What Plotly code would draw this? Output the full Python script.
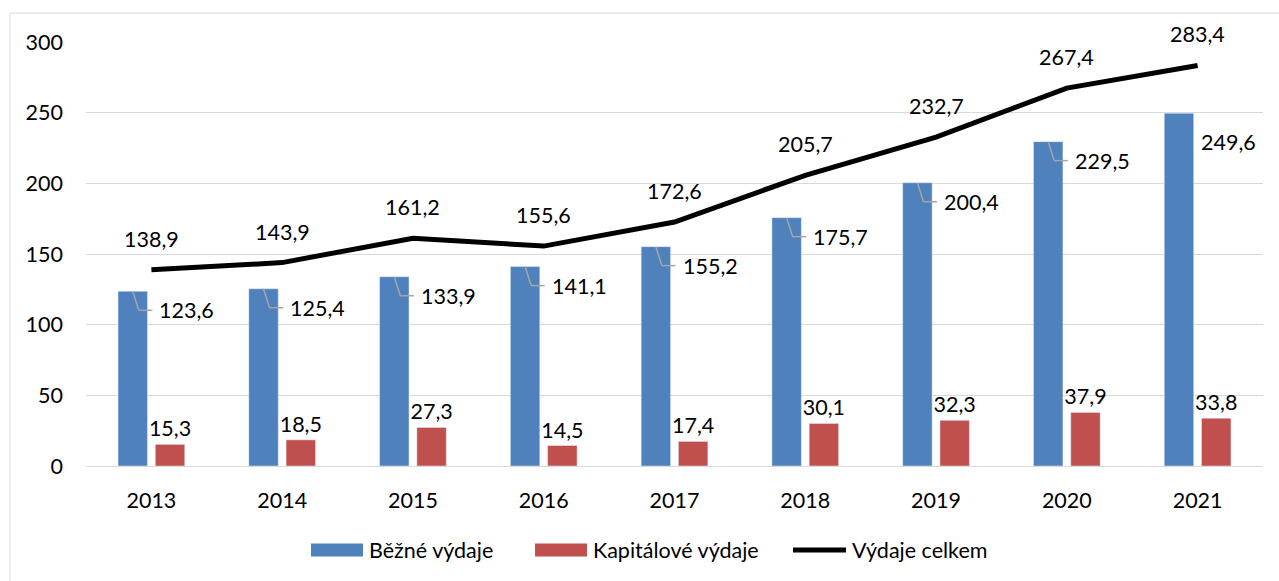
import plotly.graph_objects as go

years = ["2013", "2014", "2015", "2016", "2017", "2018", "2019", "2020", "2021"]
bezne = [123.6, 125.4, 133.9, 141.1, 155.2, 175.7, 200.4, 229.5, 249.6]
kapitalove = [15.3, 18.5, 27.3, 14.5, 17.4, 30.1, 32.3, 37.9, 33.8]
celkem = [138.9, 143.9, 161.2, 155.6, 172.6, 205.7, 232.7, 267.4, 283.4]
y_ticks = [0, 50, 100, 150, 200, 250, 300]

names = ["Běžné výdaje", "Kapitálové výdaje", "Výdaje celkem"]
BLUE = "#4f81bd"
RED = "#c0504d"
GRID = "#d9d9d9"
FONT = "Lato"
FS = 21.5

W, H = 1279, 581
ML, MR, MT, MB = 86, 16, 42, 115
PW = W - ML - MR
PH = H - MT - MB
n = len(years)
idx = list(range(n))
px_x = PW / n          # px per category unit
px_y = PH / 300.0      # px per value unit

def fmt(v):
    return f"{v:.1f}".replace(".", ",")

bargap = 0.43
bargroupgap = 0.21
blue_off = -(1 - bargap) / 4

fig = go.Figure()
fig.add_trace(go.Bar(x=idx, y=bezne, name=names[0], marker_color=BLUE,
                     showlegend=False, hoverinfo="skip"))
fig.add_trace(go.Bar(x=idx, y=kapitalove, name=names[1], marker_color=RED,
                     text=[fmt(v) for v in kapitalove], textposition="outside",
                     constraintext="none",
                     outsidetextfont=dict(family=FONT, size=FS, color="#000"),
                     textfont=dict(family=FONT, size=FS, color="#000"),
                     cliponaxis=False, showlegend=False, hoverinfo="skip"))
fig.add_trace(go.Scatter(x=idx, y=celkem, name=names[2], mode="lines",
                         line=dict(color="#000", width=5),
                         showlegend=False, hoverinfo="skip"))

annotations = []
shapes = []
# line labels
for i, v in zip(idx, celkem):
    annotations.append(dict(x=i, y=v, xref="x", yref="y", text=fmt(v),
                            showarrow=False, yshift=31, yanchor="middle",
                            font=dict(family=FONT, size=FS, color="#000")))
# blue labels with leader lines
for i, v in zip(idx, bezne):
    last = (i == n - 1)
    drop = 29 if last else 19
    ylab = v - drop / px_y
    annotations.append(dict(x=i, y=ylab, xref="x", yref="y", text=fmt(v),
                            showarrow=False, xanchor="left", yanchor="middle",
                            xshift=6 if not last else 1,
                            font=dict(family=FONT, size=FS, color="#000")))
    if not last:
        x0 = i + blue_off
        x1 = x0 + 6 / px_x
        x2 = i + 1 / px_x
        shapes.append(dict(type="line", xref="x", yref="y", x0=x0, y0=v, x1=x1, y1=ylab,
                           line=dict(color="#a6a6a6", width=1.5), layer="above"))
        shapes.append(dict(type="line", xref="x", yref="y", x0=x1, y0=ylab, x1=x2, y1=ylab,
                           line=dict(color="#a6a6a6", width=1.5), layer="above"))

# helpers for paper coords from pixels
def xp(px):
    return (px - ML) / PW

def yp(py):
    return (H - MB - py) / PH

# outer border
shapes.append(dict(type="rect", xref="paper", yref="paper",
                   x0=xp(10), x1=xp(W + 20), y0=yp(H + 20), y1=yp(13),
                   line=dict(color=GRID, width=1), fillcolor="rgba(0,0,0,0)", layer="below"))

# custom legend
leg_y = 550
legend_items = [
    ("rect", BLUE, 311, 363, names[0]),
    ("rect", RED, 535, 587, names[1]),
    ("line", "#000", 793, 846, names[2]),
]
for kind, col, a, b, label in legend_items:
    if kind == "rect":
        shapes.append(dict(type="rect", xref="paper", yref="paper",
                           x0=xp(a), x1=xp(b), y0=yp(leg_y + 6.5), y1=yp(leg_y - 6.5),
                           fillcolor=col, line=dict(width=0)))
    else:
        shapes.append(dict(type="line", xref="paper", yref="paper",
                           x0=xp(a), x1=xp(b), y0=yp(leg_y), y1=yp(leg_y),
                           line=dict(color=col, width=5)))
    annotations.append(dict(x=xp(b + 4), y=yp(leg_y), xref="paper", yref="paper",
                            text=label, showarrow=False, xanchor="left", yanchor="middle",
                            font=dict(family=FONT, size=FS, color="#000")))

fig.update_layout(
    width=W, height=H,
    margin=dict(l=ML, r=MR, t=MT, b=MB, pad=0),
    paper_bgcolor="#fff", plot_bgcolor="#fff",
    barmode="group", bargap=bargap, bargroupgap=bargroupgap,
    font=dict(family=FONT, size=FS, color="#000"),
    showlegend=False,
    annotations=annotations, shapes=shapes,
    xaxis=dict(range=[-0.5, n - 0.5], tickmode="array", tickvals=idx, ticktext=years,
               showgrid=False, zeroline=False, showline=True, linecolor=GRID, linewidth=1,
               ticks="", ticklabelstandoff=15, fixedrange=True,
               tickfont=dict(family=FONT, size=FS, color="#000")),
    yaxis=dict(range=[0, 300], tickmode="array", tickvals=y_ticks,
               showgrid=True, gridcolor=GRID, gridwidth=1, zeroline=False,
               showline=False, ticks="", ticklabelstandoff=22, fixedrange=True,
               tickfont=dict(family=FONT, size=FS, color="#000")),
)

fig.write_html("out.html", config={"displayModeBar": False},
               post_script="document.body.style.margin='0';document.body.style.padding='0';")
